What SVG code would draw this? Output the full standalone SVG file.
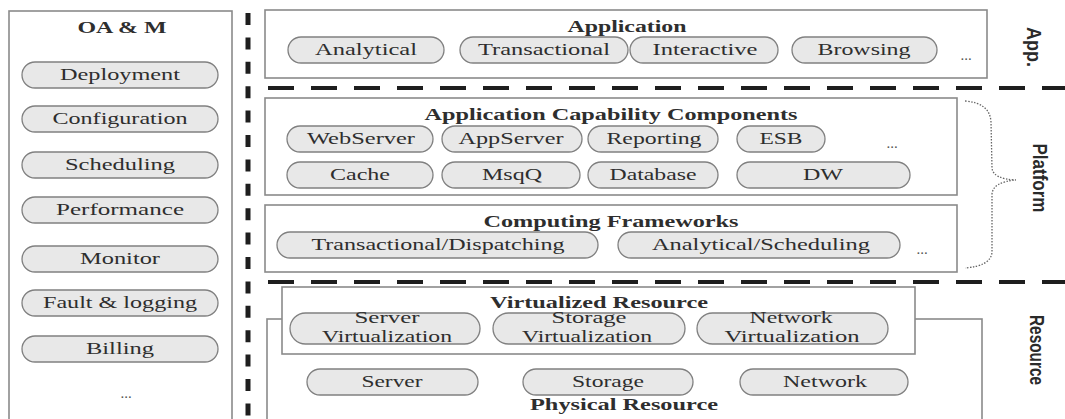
<svg xmlns="http://www.w3.org/2000/svg" width="1065" height="419" viewBox="0 0 1065 419">
<style>
.box{fill:#fff;stroke:#8a8a8a;stroke-width:1.6}
.pill{fill:#e8e8e8;stroke:#808080;stroke-width:1.3}
.t{font-family:"Liberation Serif","Times New Roman",serif;font-size:16px;fill:#2e2e2e;text-anchor:middle}
.b{font-weight:bold}
.dots{font-family:"Liberation Serif","Times New Roman",serif;font-size:15px;fill:#555;text-anchor:middle}
.side{font-family:"Liberation Sans",Arial,sans-serif;font-weight:bold;font-size:20px;fill:#2a2a2a;text-anchor:middle}
.dash{stroke:#1e1e1e;fill:none}
</style>
<rect width="1065" height="419" fill="#fff"/>
<g id="connectors">
<line class="dash" x1="248" y1="13" x2="248" y2="419" stroke-width="5" stroke-dasharray="12 12.4"/>
<line class="dash" x1="268" y1="88" x2="1065" y2="88" stroke-width="4" stroke-dasharray="26 17"/>
<line class="dash" x1="268" y1="282" x2="1065" y2="282" stroke-width="4" stroke-dasharray="26 17"/>
<path d="M965,101 Q990,103 991,122 L992,168 Q993,179 1016,180 Q993,182 992,194 L992,252 Q991,266 965,268" fill="none" stroke="#666" stroke-width="1.3" stroke-dasharray="1.5 1.5"/>
</g>
<g id="oam">
<rect class="box" x="9" y="11" width="223" height="420"/>
<text class="t b" x="122" y="33" textLength="89" lengthAdjust="spacingAndGlyphs">OA &amp; M</text>
<rect class="pill" x="22" y="62" width="196" height="26" rx="13"/>
<text class="t" x="120" y="80" textLength="120" lengthAdjust="spacingAndGlyphs">Deployment</text>
<rect class="pill" x="22" y="106" width="196" height="26" rx="13"/>
<text class="t" x="120" y="124" textLength="135" lengthAdjust="spacingAndGlyphs">Configuration</text>
<rect class="pill" x="22" y="152" width="196" height="26" rx="13"/>
<text class="t" x="120" y="170" textLength="110" lengthAdjust="spacingAndGlyphs">Scheduling</text>
<rect class="pill" x="22" y="197" width="196" height="26" rx="13"/>
<text class="t" x="120" y="215" textLength="128" lengthAdjust="spacingAndGlyphs">Performance</text>
<rect class="pill" x="22" y="246" width="196" height="26" rx="13"/>
<text class="t" x="120" y="264" textLength="80" lengthAdjust="spacingAndGlyphs">Monitor</text>
<rect class="pill" x="22" y="290" width="196" height="26" rx="13"/>
<text class="t" x="120" y="308" textLength="154" lengthAdjust="spacingAndGlyphs">Fault &amp; logging</text>
<rect class="pill" x="22" y="336" width="196" height="26" rx="13"/>
<text class="t" x="120" y="354" textLength="68" lengthAdjust="spacingAndGlyphs">Billing</text>
<text class="dots" x="126" y="398">...</text>
</g>
<g id="application">
<rect class="box" x="265" y="10" width="722" height="68"/>
<text class="t b" x="627" y="32" textLength="119" lengthAdjust="spacingAndGlyphs">Application</text>
<rect class="pill" x="288" y="37" width="156" height="26" rx="13"/>
<text class="t" x="366" y="55" textLength="102" lengthAdjust="spacingAndGlyphs">Analytical</text>
<rect class="pill" x="460" y="37" width="168" height="26" rx="13"/>
<text class="t" x="544" y="55" textLength="132" lengthAdjust="spacingAndGlyphs">Transactional</text>
<rect class="pill" x="630" y="37" width="148" height="26" rx="13"/>
<text class="t" x="705" y="55" textLength="105" lengthAdjust="spacingAndGlyphs">Interactive</text>
<rect class="pill" x="792" y="37" width="145" height="26" rx="13"/>
<text class="t" x="864" y="55" textLength="93" lengthAdjust="spacingAndGlyphs">Browsing</text>
<text class="dots" x="966" y="60">...</text>
</g>
<g id="capability">
<rect class="box" x="265" y="98" width="692" height="97"/>
<text class="t b" x="611" y="120" textLength="373" lengthAdjust="spacingAndGlyphs">Application Capability Components</text>
<rect class="pill" x="287" y="126" width="146" height="26" rx="13"/>
<text class="t" x="361" y="144" textLength="108" lengthAdjust="spacingAndGlyphs">WebServer</text>
<rect class="pill" x="442" y="126" width="140" height="26" rx="13"/>
<text class="t" x="511" y="144" textLength="105" lengthAdjust="spacingAndGlyphs">AppServer</text>
<rect class="pill" x="588" y="126" width="130" height="26" rx="13"/>
<text class="t" x="654" y="144" textLength="95" lengthAdjust="spacingAndGlyphs">Reporting</text>
<rect class="pill" x="737" y="126" width="88" height="26" rx="13"/>
<text class="t" x="781" y="144" textLength="43" lengthAdjust="spacingAndGlyphs">ESB</text>
<text class="dots" x="892" y="148">...</text>
<rect class="pill" x="287" y="162" width="146" height="26" rx="13"/>
<text class="t" x="360" y="180" textLength="60" lengthAdjust="spacingAndGlyphs">Cache</text>
<rect class="pill" x="442" y="162" width="138" height="26" rx="13"/>
<text class="t" x="512" y="180" textLength="60" lengthAdjust="spacingAndGlyphs">MsqQ</text>
<rect class="pill" x="588" y="162" width="130" height="26" rx="13"/>
<text class="t" x="653" y="180" textLength="87" lengthAdjust="spacingAndGlyphs">Database</text>
<rect class="pill" x="737" y="162" width="173" height="26" rx="13"/>
<text class="t" x="823" y="180" textLength="40" lengthAdjust="spacingAndGlyphs">DW</text>
</g>
<g id="frameworks">
<rect class="box" x="265" y="205" width="692" height="67"/>
<text class="t b" x="611" y="227" textLength="255" lengthAdjust="spacingAndGlyphs">Computing Frameworks</text>
<rect class="pill" x="277" y="232" width="321" height="26" rx="13"/>
<text class="t" x="438" y="250" textLength="253" lengthAdjust="spacingAndGlyphs">Transactional/Dispatching</text>
<rect class="pill" x="618" y="232" width="282" height="26" rx="13"/>
<text class="t" x="761" y="250" textLength="218" lengthAdjust="spacingAndGlyphs">Analytical/Scheduling</text>
<text class="dots" x="922" y="254">...</text>
</g>
<g id="physical">
<rect class="box" x="267" y="319" width="715" height="120"/>
<rect class="pill" x="307" y="369" width="171" height="26" rx="13"/>
<text class="t" x="392" y="387" textLength="61" lengthAdjust="spacingAndGlyphs">Server</text>
<rect class="pill" x="523" y="369" width="170" height="26" rx="13"/>
<text class="t" x="608" y="387" textLength="72" lengthAdjust="spacingAndGlyphs">Storage</text>
<rect class="pill" x="740" y="369" width="168" height="26" rx="13"/>
<text class="t" x="825" y="387" textLength="84" lengthAdjust="spacingAndGlyphs">Network</text>
<text class="t b" x="624" y="410" textLength="188" lengthAdjust="spacingAndGlyphs">Physical Resource</text>
</g>
<g id="virtualized">
<rect class="box" x="282" y="287" width="633" height="67"/>
<text class="t b" x="599" y="308" textLength="218" lengthAdjust="spacingAndGlyphs">Virtualized Resource</text>
<rect class="pill" x="290" y="313" width="190" height="31" rx="15.5"/>
<text class="t" x="387" y="323" textLength="65" lengthAdjust="spacingAndGlyphs">Server</text>
<text class="t" x="387" y="342" textLength="130" lengthAdjust="spacingAndGlyphs">Virtualization</text>
<rect class="pill" x="493" y="313" width="192" height="31" rx="15.5"/>
<text class="t" x="589" y="323" textLength="75" lengthAdjust="spacingAndGlyphs">Storage</text>
<text class="t" x="587" y="342" textLength="130" lengthAdjust="spacingAndGlyphs">Virtualization</text>
<rect class="pill" x="697" y="313" width="191" height="31" rx="15.5"/>
<text class="t" x="791" y="323" textLength="83" lengthAdjust="spacingAndGlyphs">Network</text>
<text class="t" x="792" y="342" textLength="135" lengthAdjust="spacingAndGlyphs">Virtualization</text>
</g>
<g id="labels">
<text class="side" transform="translate(1027,47) rotate(90)" textLength="40" lengthAdjust="spacingAndGlyphs">App.</text>
<text class="side" transform="translate(1033,178) rotate(90)" textLength="69" lengthAdjust="spacingAndGlyphs">Platform</text>
<text class="side" transform="translate(1030,350) rotate(90)" textLength="70" lengthAdjust="spacingAndGlyphs">Resource</text>
</g>
</svg>
